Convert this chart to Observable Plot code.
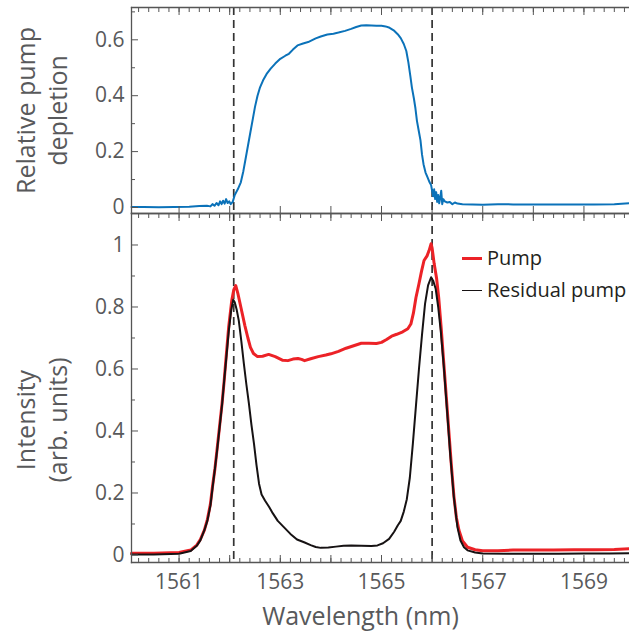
<!DOCTYPE html>
<html>
<head>
<meta charset="utf-8">
<script src="https://cdn.jsdelivr.net/npm/d3@7"></script>
<script src="https://cdn.jsdelivr.net/npm/@observablehq/plot@0.6"></script>
<style>
  body { margin: 0; background: #fff; }
  #chart { position: relative; width: 629px; height: 637px; font-family: "Open Sans", sans-serif; }
  #chart svg { display: block; }
  .leg { position: absolute; left: 462px; font-size: 20px; color: #231f20; line-height: 24px; white-space: nowrap; }
  .sw { display: inline-block; width: 20px; vertical-align: middle; margin-right: 5px; position: relative; top: -1px; }
</style>
</head>
<body>
<div id="chart"></div>
<script>
// ---- data ----
const markerWavelengths = [1562.08, 1566.0];
const xMajorTicks = [1561, 1562, 1563, 1564, 1565, 1566, 1567, 1568, 1569];
const xMinorTicks = d3.range(1560.2, 1569.9, 0.2).map(v => +v.toFixed(1));
const xTickLabels = [1561, 1563, 1565, 1567, 1569];
const depletionTicks = [0, 0.2, 0.4, 0.6];
const depletionMinorTicks = [0.1, 0.3, 0.5, 0.7];
const intensityTicks = [0, 0.2, 0.4, 0.6, 0.8, 1];
const intensityMinorTicks = [0.1, 0.3, 0.5, 0.7, 0.9];
const seriesNames = ["Pump", "Residual pump"];

// relative pump depletion [wavelength nm, value]
const depletion = [
  [1560.06,0.002],[1560.3,0.002],[1560.6,0.001],[1560.9,0.002],[1561.2,0.003],[1561.4,0.005],
  [1561.55,0.006],[1561.62,0.004],[1561.66,0.012],[1561.7,0.006],[1561.74,0.016],[1561.78,0.008],
  [1561.81,0.022],[1561.84,0.012],[1561.87,0.024],[1561.9,0.014],[1561.93,0.030],[1561.96,0.016],
  [1561.99,0.022],[1562.02,0.012],[1562.06,0.020],[1562.1,0.045],[1562.16,0.065],[1562.22,0.090],
  [1562.27,0.13],[1562.31,0.17],[1562.36,0.22],[1562.41,0.27],[1562.46,0.32],[1562.5,0.36],
  [1562.55,0.40],[1562.6,0.43],[1562.66,0.455],[1562.73,0.478],[1562.81,0.497],[1562.9,0.515],
  [1563.0,0.532],[1563.1,0.543],[1563.17,0.55],[1563.25,0.565],[1563.34,0.58],[1563.45,0.587],
  [1563.55,0.592],[1563.7,0.605],[1563.8,0.612],[1563.93,0.619],[1564.05,0.622],[1564.15,0.626],
  [1564.28,0.632],[1564.4,0.639],[1564.5,0.646],[1564.6,0.651],[1564.7,0.652],[1564.8,0.651],
  [1564.9,0.650],[1565.0,0.650],[1565.08,0.648],[1565.16,0.643],[1565.24,0.634],[1565.32,0.62],
  [1565.38,0.606],[1565.44,0.585],[1565.49,0.56],[1565.53,0.52],[1565.57,0.47],[1565.6,0.43],
  [1565.64,0.39],[1565.67,0.355],[1565.7,0.31],[1565.74,0.27],[1565.77,0.24],[1565.8,0.19],
  [1565.83,0.155],[1565.87,0.125],[1565.91,0.108],[1565.95,0.09],[1565.98,0.08],[1566.0,0.06],
  [1566.02,0.04],[1566.04,0.065],[1566.06,0.03],[1566.08,0.055],[1566.1,0.02],[1566.12,0.045],
  [1566.14,0.015],[1566.16,0.035],[1566.18,0.06],[1566.2,0.012],[1566.22,0.03],[1566.25,0.022],
  [1566.3,0.018],[1566.35,0.02],[1566.4,0.012],[1566.45,0.018],[1566.5,0.014],[1566.6,0.012],
  [1566.8,0.011],[1567.0,0.010],[1567.3,0.012],[1567.6,0.011],[1568.0,0.011],[1568.4,0.011],
  [1568.8,0.011],[1569.2,0.011],[1569.6,0.012],[1569.9,0.015]
];

// pump intensity
const pump = [
  [1560.06,0.006],[1560.5,0.006],[1561.0,0.008],[1561.23,0.016],[1561.35,0.032],[1561.42,0.05],
  [1561.5,0.08],[1561.56,0.115],[1561.62,0.165],[1561.66,0.22],[1561.71,0.28],[1561.75,0.34],
  [1561.8,0.415],[1561.85,0.49],[1561.89,0.56],[1561.92,0.62],[1561.98,0.735],[1562.04,0.82],
  [1562.08,0.855],[1562.12,0.869],[1562.16,0.845],[1562.22,0.80],[1562.3,0.74],[1562.36,0.70],
  [1562.41,0.67],[1562.47,0.65],[1562.55,0.64],[1562.65,0.641],[1562.77,0.647],[1562.9,0.64],
  [1563.05,0.628],[1563.15,0.627],[1563.25,0.632],[1563.35,0.634],[1563.42,0.631],[1563.48,0.627],
  [1563.6,0.633],[1563.75,0.64],[1563.9,0.645],[1564.0,0.649],[1564.15,0.657],[1564.3,0.667],
  [1564.45,0.675],[1564.6,0.683],[1564.75,0.683],[1564.9,0.682],[1565.0,0.686],[1565.1,0.695],
  [1565.2,0.706],[1565.3,0.712],[1565.42,0.72],[1565.52,0.73],[1565.58,0.745],[1565.63,0.78],
  [1565.68,0.83],[1565.74,0.875],[1565.79,0.915],[1565.84,0.95],[1565.9,0.965],[1565.94,0.982],
  [1565.98,1.004],[1566.0,0.99],[1566.04,0.94],[1566.09,0.89],[1566.13,0.83],[1566.18,0.73],
  [1566.23,0.62],[1566.28,0.51],[1566.33,0.40],[1566.38,0.29],[1566.43,0.19],[1566.48,0.12],
  [1566.53,0.08],[1566.6,0.045],[1566.7,0.025],[1566.85,0.017],[1567.0,0.014],[1567.3,0.014],
  [1567.6,0.016],[1568.0,0.016],[1568.4,0.016],[1568.8,0.017],[1569.2,0.017],[1569.6,0.018],
  [1569.9,0.02]
];

// residual pump intensity
const residual = [
  [1560.06,0.002],[1560.5,0.002],[1561.0,0.004],[1561.23,0.013],[1561.35,0.03],[1561.42,0.047],
  [1561.5,0.08],[1561.56,0.111],[1561.62,0.16],[1561.66,0.215],[1561.71,0.28],[1561.75,0.335],
  [1561.8,0.41],[1561.85,0.486],[1561.89,0.56],[1561.93,0.63],[1561.98,0.72],[1562.03,0.79],
  [1562.07,0.823],[1562.1,0.815],[1562.14,0.79],[1562.18,0.756],[1562.23,0.69],[1562.28,0.617],
  [1562.33,0.55],[1562.38,0.488],[1562.43,0.42],[1562.48,0.359],[1562.53,0.29],[1562.58,0.23],
  [1562.63,0.195],[1562.7,0.175],[1562.78,0.155],[1562.85,0.135],[1562.95,0.11],[1563.07,0.09],
  [1563.2,0.068],[1563.33,0.05],[1563.47,0.041],[1563.6,0.032],[1563.7,0.026],[1563.8,0.023],
  [1563.95,0.024],[1564.1,0.027],[1564.25,0.03],[1564.4,0.031],[1564.6,0.03],[1564.8,0.029],
  [1564.92,0.031],[1565.03,0.038],[1565.15,0.052],[1565.25,0.075],[1565.32,0.095],[1565.38,0.11],
  [1565.44,0.14],[1565.5,0.18],[1565.56,0.25],[1565.62,0.36],[1565.68,0.48],[1565.74,0.60],
  [1565.8,0.71],[1565.86,0.81],[1565.92,0.87],[1565.98,0.896],[1566.02,0.885],[1566.07,0.859],
  [1566.12,0.80],[1566.17,0.724],[1566.23,0.61],[1566.3,0.455],[1566.36,0.32],[1566.43,0.186],
  [1566.5,0.09],[1566.56,0.047],[1566.63,0.025],[1566.7,0.015],[1566.85,0.008],[1567.0,0.005],
  [1567.5,0.004],[1568.0,0.004],[1568.5,0.004],[1569.0,0.005],[1569.5,0.005],[1569.9,0.006]
];

// ---- styling ----
const FONT = "'Open Sans', sans-serif";
const AXIS_COLOR = "#555";
const TEXT_COLOR = "#58595b";
const xDomain = [1560.06, 1569.9];
const fmt = d => String(d);

function frameAndTicks(yMajor, yMinor, opts) {
  return [
    Plot.frame({anchor: "left", stroke: AXIS_COLOR, strokeWidth: 1.3}),
    Plot.frame({anchor: "top", stroke: AXIS_COLOR, strokeWidth: 1.3}),
    Plot.frame({anchor: "bottom", stroke: AXIS_COLOR, strokeWidth: 1.3}),
    Plot.axisX(xMinorTicks, {anchor: "top", tickSize: opts.topMinor ? -4 : 0, fill: "none", stroke: AXIS_COLOR, label: null}),
    Plot.axisX(xMajorTicks, {anchor: "top", tickSize: -7, fill: "none", stroke: AXIS_COLOR, label: null}),
    Plot.axisX(xMinorTicks, {anchor: "bottom", tickSize: opts.bottomMinor ? -4 : 0, fill: "none", stroke: AXIS_COLOR, label: null}),
    Plot.axisX(xMajorTicks, {anchor: "bottom", tickSize: -7, fill: "none", stroke: AXIS_COLOR, label: null}),
    Plot.axisY(yMinor, {anchor: "left", tickSize: -4, fill: "none", stroke: AXIS_COLOR, label: null}),
    Plot.axisY(yMajor, {anchor: "left", tickSize: -7, fill: "none", stroke: AXIS_COLOR, label: null}),
    Plot.axisY(yMajor, {anchor: "left", tickSize: 0, tickPadding: 7, tickFormat: fmt, fontSize: 21, fill: TEXT_COLOR, label: null})
  ];
}

const topPanel = Plot.plot({
  width: 629, height: 213,
  marginTop: 7, marginBottom: 0, marginLeft: 131, marginRight: 0,
  style: {fontFamily: FONT, background: "transparent", overflow: "visible"},
  x: {domain: xDomain, axis: null},
  y: {domain: [-0.0215, 0.7156], axis: null},
  marks: [
    Plot.ruleX(markerWavelengths, {stroke: "#333", strokeWidth: 1.7, strokeDasharray: "8,5"}),
    Plot.line(depletion, {x: d => d[0], y: d => d[1], stroke: "#0b72b9", strokeWidth: 2}),
    ...frameAndTicks(depletionTicks, depletionMinorTicks, {topMinor: true, bottomMinor: false}),
    Plot.text(["Relative pump\ndepletion"], {text: d => d, frameAnchor: "left", rotate: -90, dx: -91,
      fontSize: 25, lineHeight: 1.28, lineAnchor: "middle", textAnchor: "middle", fill: TEXT_COLOR})
  ]
});

const bottomPanel = Plot.plot({
  width: 629, height: 424,
  marginTop: 0, marginBottom: 75, marginLeft: 131, marginRight: 0,
  style: {fontFamily: FONT, background: "transparent", overflow: "visible"},
  x: {domain: xDomain, axis: null},
  y: {domain: [-0.0242, 1.1016], axis: null},
  marks: [
    Plot.ruleX(markerWavelengths, {stroke: "#333", strokeWidth: 1.7, strokeDasharray: "8,5"}),
    Plot.line(pump, {x: d => d[0], y: d => d[1], stroke: "#ec2227", strokeWidth: 3}),
    Plot.line(residual, {x: d => d[0], y: d => d[1], stroke: "#161213", strokeWidth: 2}),
    ...frameAndTicks(intensityTicks, intensityMinorTicks, {topMinor: true, bottomMinor: true}),
    Plot.axisX(xTickLabels, {anchor: "bottom", tickSize: 0, tickPadding: 12, tickFormat: fmt, fontSize: 21, fill: TEXT_COLOR, label: null}),
    Plot.text(["Intensity\n(arb. units)"], {text: d => d, frameAnchor: "left", rotate: -90, dx: -91, dy: 32,
      fontSize: 25, lineHeight: 1.28, lineAnchor: "middle", textAnchor: "middle", fill: TEXT_COLOR}),
    Plot.text(["Wavelength (nm)"], {text: d => d, frameAnchor: "bottom", dx: -20, dy: 62,
      fontSize: 25, lineAnchor: "bottom", textAnchor: "middle", fill: TEXT_COLOR})
  ]
});

const chart = document.getElementById("chart");
chart.appendChild(topPanel);
chart.appendChild(bottomPanel);

// legend
const legendColors = ["#ec2227", "#161213"];
const legendWidths = [3, 1.5];
const legendTops = [246, 278];
seriesNames.forEach((name, i) => {
  const div = document.createElement("div");
  div.className = "leg";
  div.style.top = legendTops[i] + "px";
  const sw = document.createElement("span");
  sw.className = "sw";
  sw.style.borderTop = `${legendWidths[i]}px solid ${legendColors[i]}`;
  div.appendChild(sw);
  div.appendChild(document.createTextNode(name));
  chart.appendChild(div);
});
</script>
</body>
</html>
